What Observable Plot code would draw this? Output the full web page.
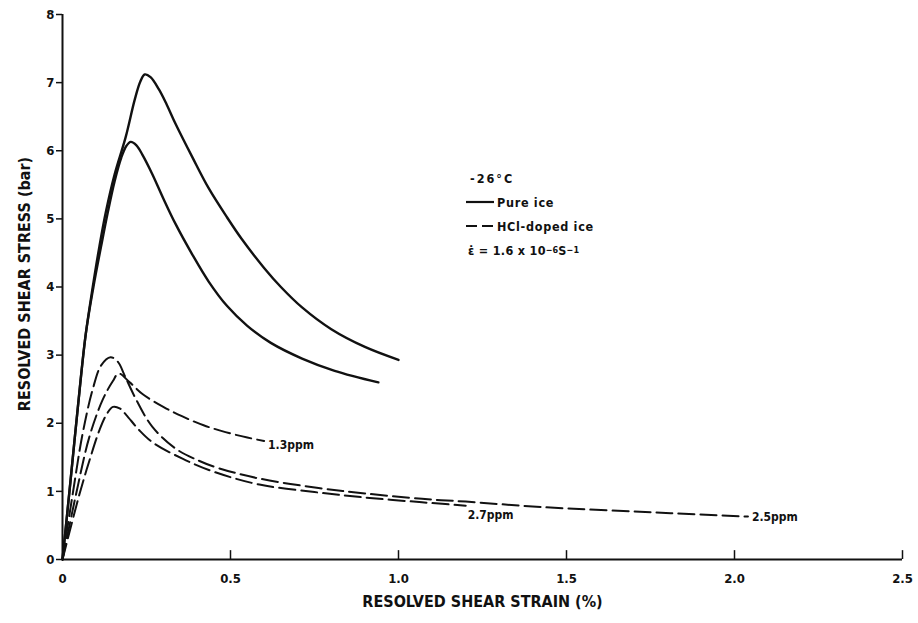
<!DOCTYPE html>
<html>
<head>
<meta charset="utf-8">
<script src="https://cdn.jsdelivr.net/npm/d3@7"></script>
<script src="https://cdn.jsdelivr.net/npm/@observablehq/plot@0.6"></script>
<style>
  html, body { margin: 0; padding: 0; background: #fff; }
  #wrap { position: relative; width: 918px; height: 623px; font-family: "DejaVu Sans Condensed", "DejaVu Sans", sans-serif; }
  #legend { position: absolute; left: 466px; top: 166px; font-size: 12.5px; color: #111; font-weight: bold; letter-spacing: 0.7px; }
  #legend .row { display: flex; align-items: center; height: 24px; }
  #legend svg { margin-right: 3px; }
  #legend sup { font-size: 9px; vertical-align: 5px; line-height: 0; letter-spacing: 0; }
</style>
</head>
<body>
<div id="wrap">
  <div id="chart"></div>
  <div id="legend">
    <div class="row" style="padding-left:4px; letter-spacing:2px">-26°C</div>
    <div class="row"><svg width="28" height="6"><line x1="0" y1="3" x2="28" y2="3" stroke="#111" stroke-width="2.2"/></svg>Pure ice</div>
    <div class="row"><svg width="28" height="6"><line x1="0" y1="3" x2="28" y2="3" stroke="#111" stroke-width="2.2" stroke-dasharray="11,5"/></svg>HCl-doped ice</div>
    <div class="row" style="padding-left:2px; font-size:12.5px; letter-spacing:0.3px">ε̇ = 1.6 x 10<sup>−6</sup>S<sup>−1</sup></div>
  </div>
</div>
<script>
// ---- data ----
const xTickValues = [0, 0.5, 1.0, 1.5, 2.0, 2.5];
const xTickLabels = ["0", "0.5", "1.0", "1.5", "2.0", "2.5"];
const yTickValues = [0, 1, 2, 3, 4, 5, 6, 7, 8];
const xTitle = "RESOLVED SHEAR STRAIN (%)";
const yTitle = "RESOLVED SHEAR STRESS (bar)";

// Pure ice, higher peak
const pureAx = [0, 0.024, 0.045, 0.069, 0.09, 0.11, 0.129, 0.155, 0.188, 0.215, 0.232, 0.245, 0.262, 0.287, 0.31, 0.336, 0.386, 0.435, 0.49, 0.534, 0.60, 0.65, 0.713, 0.80, 0.90, 1.0];
const pureAy = [0, 1.16, 2.2, 3.3, 4.0, 4.6, 5.1, 5.65, 6.2, 6.75, 7.02, 7.12, 7.08, 6.9, 6.68, 6.40, 5.91, 5.45, 5.02, 4.70, 4.28, 4.0, 3.70, 3.38, 3.12, 2.93];
// Pure ice, lower peak
const pureBx = [0, 0.024, 0.045, 0.069, 0.092, 0.115, 0.135, 0.155, 0.175, 0.19, 0.203, 0.22, 0.238, 0.267, 0.30, 0.336, 0.386, 0.435, 0.49, 0.55, 0.62, 0.713, 0.81, 0.94];
const pureBy = [0, 1.16, 2.2, 3.3, 4.0, 4.6, 5.1, 5.55, 5.9, 6.07, 6.13, 6.08, 5.94, 5.66, 5.30, 4.93, 4.48, 4.08, 3.72, 3.43, 3.18, 2.95, 2.77, 2.60];

// HCl-doped 1.3 ppm
const ppm13x = [0, 0.04, 0.08, 0.12, 0.15, 0.167, 0.2, 0.238, 0.3, 0.357, 0.42, 0.485, 0.55, 0.60];
const ppm13y = [0, 0.95, 1.8, 2.35, 2.62, 2.73, 2.6, 2.43, 2.24, 2.1, 1.97, 1.87, 1.79, 1.74];
// HCl-doped 2.5 ppm (peak ~2.95)
const ppm25x = [0, 0.03, 0.06, 0.09, 0.115, 0.143, 0.165, 0.185, 0.218, 0.267, 0.336, 0.406, 0.465, 0.584, 0.762, 0.9, 1.07, 1.2, 1.425, 1.81, 2.04];
const ppm25y = [0, 0.95, 1.85, 2.5, 2.85, 2.97, 2.9, 2.7, 2.36, 1.95, 1.63, 1.45, 1.34, 1.19, 1.05, 0.97, 0.89, 0.85, 0.77, 0.68, 0.63];
// HCl-doped 2.7 ppm (peak ~2.25)
const ppm27x = [0, 0.05, 0.08, 0.11, 0.13, 0.15, 0.17, 0.19, 0.228, 0.268, 0.357, 0.455, 0.586, 0.75, 0.9, 1.07, 1.2];
const ppm27y = [0, 0.95, 1.45, 1.9, 2.12, 2.24, 2.22, 2.12, 1.9, 1.72, 1.48, 1.28, 1.10, 0.99, 0.91, 0.84, 0.79];

const curveNames = ["pureA", "pureB", "1.3ppm", "2.5ppm", "2.7ppm"];
const labelText = ["1.3ppm", "2.7ppm", "2.5ppm"];

const zip = (xs, ys, name) => xs.map((x, i) => ({x, y: ys[i], name}));
const pureData = [...zip(pureAx, pureAy, curveNames[0]), ...zip(pureBx, pureBy, curveNames[1])];
const dopedData = [...zip(ppm13x, ppm13y, curveNames[2]), ...zip(ppm25x, ppm25y, curveNames[3]), ...zip(ppm27x, ppm27y, curveNames[4])];

const labels = [
  {x: ppm13x[ppm13x.length - 1], y: ppm13y[ppm13y.length - 1], text: labelText[0], ox: 4, oy: 4},
  {x: ppm27x[ppm27x.length - 1], y: ppm27y[ppm27y.length - 1], text: labelText[1], ox: 2, oy: 9},
  {x: ppm25x[ppm25x.length - 1], y: ppm25y[ppm25y.length - 1], text: labelText[2], ox: 4, oy: 1}
];

const font = "'DejaVu Sans Condensed', 'DejaVu Sans', sans-serif";
const ink = "#111";

const chart = Plot.plot({
  width: 918,
  height: 623,
  marginLeft: 62,
  marginRight: 16,
  marginTop: 14,
  marginBottom: 64,
  style: {fontFamily: font, color: ink, background: "#fff"},
  x: {type: "linear", domain: [0, 2.5], axis: null},
  y: {type: "linear", domain: [0, 8], axis: null},
  marks: [
    // axes lines
    Plot.ruleX([0], {x: d => d, stroke: ink, strokeWidth: 2}),
    Plot.ruleY([0], {y: d => d, stroke: ink, strokeWidth: 2}),
    // y ticks (outward, left)
    Plot.tickY(yTickValues, {y: d => d, stroke: ink, strokeWidth: 1.5, render: (index, scales, values, dims, ctx, next) => {
      const g = next(index, scales, values, dims, ctx);
      d3.select(g).selectAll("line").attr("x1", dims.marginLeft - 6).attr("x2", dims.marginLeft);
      return g;
    }}),
    Plot.text(yTickValues, {x: 0, y: d => d, text: d => String(d), textAnchor: "end", dx: -8, fontSize: 13, fontWeight: "bold", fill: ink}),
    // x ticks (inward, up)
    Plot.ruleX(xTickValues.slice(1), {x: d => d, y1: 0, y2: 0.13, stroke: ink, strokeWidth: 1.5}),
    Plot.text(xTickValues, {x: d => d, y: 0, text: (d, i) => xTickLabels[i], dy: 19, fontSize: 13, fontWeight: "bold", fill: ink}),
    // axis titles
    Plot.text([xTitle], {frameAnchor: "bottom", text: d => d, textAnchor: "middle", dy: 47, fontSize: 16, fontWeight: "bold", fill: ink}),
    Plot.text([yTitle], {frameAnchor: "left", text: d => d, textAnchor: "middle", rotate: -90, dx: -38, dy: -3, fontSize: 16, fontWeight: "bold", fill: ink}),
    // curves
    Plot.line(pureData, {x: "x", y: "y", z: "name", curve: "catmull-rom", stroke: ink, strokeWidth: 2.4}),
    Plot.line(dopedData, {x: "x", y: "y", z: "name", curve: "catmull-rom", stroke: ink, strokeWidth: 2, strokeDasharray: "16,6"}),
    // curve labels
    Plot.text(labels, {x: "x", y: "y", text: "text", textAnchor: "start", fontSize: 12, fontWeight: "bold", fill: ink,
      render: (index, scales, values, dims, ctx, next) => {
        const g = next(index, scales, values, dims, ctx);
        d3.select(g).selectAll("text").each(function(_, i) {
          const l = labels[index[i]];
          const t = this.getAttribute("transform") || "";
          this.setAttribute("transform", t + ` translate(${l.ox},${l.oy})`);
        });
        return g;
      }})
  ]
});
document.getElementById("chart").appendChild(chart);
</script>
</body>
</html>
